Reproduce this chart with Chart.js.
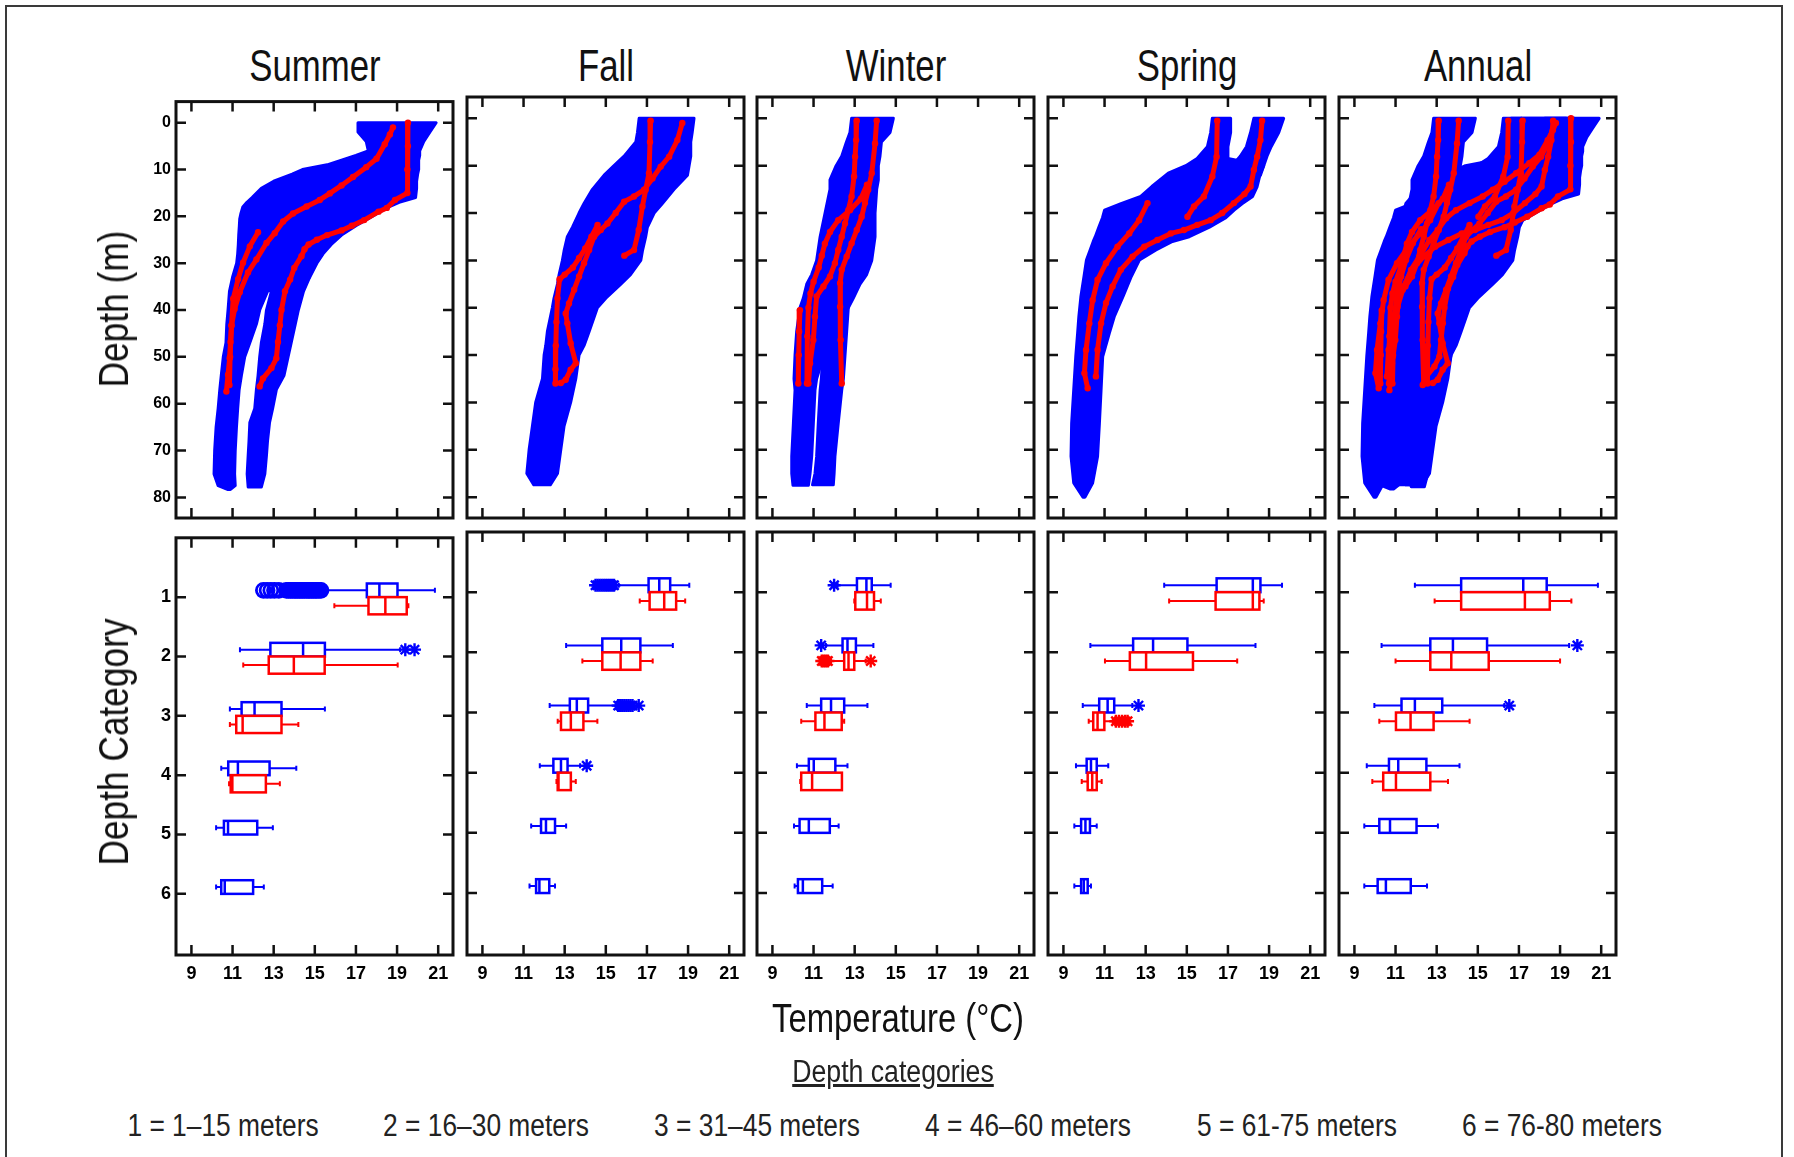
<!DOCTYPE html>
<html>
<head>
<meta charset="utf-8">
<script src="https://cdn.jsdelivr.net/npm/chart.js@4.4.1/dist/chart.umd.min.js"></script>
<style>
  body { margin: 0; background: #fff; width: 1794px; height: 1157px; overflow: hidden; position: relative;
         font-family: "Liberation Sans Narrow", "Arial Narrow", "Liberation Sans", Arial, sans-serif; color: #111; }
  .frame { position: absolute; left: 5px; top: 5px; width: 1774px; height: 1200px; border: 2px solid #3a3a3a; }
  canvas { position: absolute; }
  .txt { position: absolute; white-space: nowrap; }
</style>
</head>
<body>
<div class="frame"></div>
<script>
const FONT = '"Liberation Sans", Arial, sans-serif';
const BLUE = '#0000ff';
const RED = '#ff0000';

const seasons = ['Summer', 'Fall', 'Winter', 'Spring', 'Annual'];
const tempTicks = [9, 11, 13, 15, 17, 19, 21];
const depthTicks = [0, 10, 20, 30, 40, 50, 60, 70, 80];
const categoryTicks = [1, 2, 3, 4, 5, 6];
const depthCategories = ['1 = 1–15 meters', '2 = 16–30 meters', '3 = 31–45 meters',
                         '4 = 46–60 meters', '5 = 61-75 meters', '6 = 76-80 meters'];

// blue point clouds, rows of [depth m, min temp, max temp]
const summerCloudA = [[0,17.1,20.9],[2,17.1,20.6],[4,17.5,20.3],[6,17.6,20.1],[7,17.0,20.1],[8,16.3,20.05],
  [9,15.6,20.05],[10,14.4,20.05],[11,13.9,20.0],[12.5,13.0,19.95],[14,12.4,19.95],[16,11.95,19.9],[17,11.7,19.1],
  [18,11.5,18.6],[19.5,11.4,18.0],[20.5,11.35,17.6],[22,11.33,17.0],[24,11.3,16.3],[26,11.28,15.8],[28,11.25,15.4],
  [30,11.2,15.1],[33,11.0,14.75],[36,10.85,12.7],[40,10.78,12.32],[43,10.72,12.16],[47,10.68,11.84],[50,10.55,11.59],
  [54,10.45,11.43],[57,10.38,11.32],[61,10.3,11.25],[65,10.2,11.19],[70,10.13,11.13],[75,10.1,11.1],[77.5,10.3,11.13],[78.3,10.75,10.9]];
const summerCloudB = [[33,13.6,14.75],[36,12.89,14.45],[40,12.65,14.2],[43,12.57,14.05],[47,12.4,13.85],[50,12.32,13.7],
  [54,12.24,13.5],[57,12.16,13.13],[61,12.08,12.95],[64,11.84,12.8],[68,11.8,12.7],[71,11.76,12.65],[75,11.71,12.57],[77.8,11.76,12.4]];
const fallCloud = [[0,16.62,19.29],[3,16.54,19.2],[5,16.46,19.13],[8,15.89,19.13],[10,15.4,19.05],[12,14.92,18.97],
  [15,14.35,18.32],[18,13.94,17.75],[20,13.7,17.35],[23,13.38,17.02],[25,13.13,16.94],[28,12.97,16.78],[30,12.89,16.7],
  [33,12.73,16.2],[35,12.65,15.73],[38,12.48,15.0],[40,12.4,14.59],[45,12.16,14.19],[48,12.08,13.94],[50,12.0,13.7],
  [55,11.92,13.54],[60,11.59,13.29],[65,11.43,12.97],[70,11.27,12.81],[75,11.16,12.65],[77.4,11.5,12.3]];
const winterCloudA = [[0,12.85,14.88],[3,12.77,14.72],[5,12.6,14.3],[8,12.37,14.23],[10,12.1,14.15],[13,11.8,14.15],
  [15,11.8,14.07],[20,11.56,13.99],[25,11.32,13.99],[30,11.15,13.83],[33,10.91,13.58],[35,10.67,13.26],[38,10.5,12.93],
  [40,10.34,12.69],[45,10.18,11.9],[50,10.1,11.5],[55,10.05,11.15],[57.4,10.1,11.07],[64.4,10.02,10.99],[71.4,9.94,10.91],
  [75,9.94,10.83],[77.5,10.0,10.75]];
const winterCloudB = [[40,11.6,12.69],[45,11.5,12.61],[50,11.45,12.53],[55,11.38,12.45],[57.4,11.32,12.37],[64.4,11.23,12.2],
  [71.4,11.15,12.04],[75,11.07,12.0],[77.4,10.95,11.96]];
const springCloudA = [[0,16.24,17.13],[3,16.16,17.13],[6,16.0,17.0],[8.5,15.5,17.0],[10,14.95,18.74],[11.6,14.1,18.58],
  [14.4,13.3,18.42],[16.5,12.76,18.2],[18,11.8,17.7],[19.4,11.0,17.3],[21,10.9,16.9],[23,10.72,16.1],[25,10.55,15.12],
  [26,10.45,14.3],[27.8,10.3,13.5],[29.9,10.12,12.7],[33.4,10.0,12.3],[37.6,9.85,11.9],[41.9,9.75,11.47],[45.4,9.69,11.23],
  [50.3,9.6,10.91],[57.4,9.5,10.83],[64.4,9.4,10.75],[71.4,9.37,10.66],[77,9.5,10.42],[80,9.95,10.05]];
const springCloudB = [[0,18.26,19.71],[3,18.1,19.47],[6,17.9,19.1],[8,17.6,18.9],[10,17.2,18.74],[12,17.0,18.58]];

// red profiles, points of [temp, depth]
const summerRed1 = [[19.53,0],[19.53,5],[19.5,10],[19.5,15],[18.9,16.5],[18.5,18.2],[18.1,19],[17.4,20.8],[16.8,22],
  [16.3,23],[15.6,24],[15.1,25],[14.7,26],[14.5,27],[14.35,28.5],[14.0,31],[13.8,33.5],[13.55,36],[13.38,40],[13.3,43.3],
  [13.21,46.8],[13.13,50.3],[12.89,52.4],[12.48,54.6],[12.32,56.3]];
const summerRed2 = [[18.8,1],[18.65,2.5],[18.4,4.6],[18.0,7.7],[17.5,9.5],[16.86,11.6],[16.3,13.4],[15.73,15.1],
  [15.24,16.5],[14.6,17.9],[13.94,19.4],[13.46,21.1],[13.05,23.6],[12.65,25.7],[12.16,29.2],[11.75,32],[11.35,36.2],
  [11.1,39.8],[10.95,43.3],[10.9,46.8],[10.86,50.3],[10.78,53.8],[10.7,57.4]];
const summerRed3 = [[12.24,23.4],[11.84,26.4],[11.51,29.9],[11.27,33.4],[11.03,37.6],[10.95,43.3],[10.88,50],[10.85,56]];
const fallRed1 = [[17.18,0.5],[17.15,5],[17.1,11.6],[16.94,15.1],[16.78,18.6],[16.6,23.6],[16.37,27.8],[15.9,29]];
const fallRed2 = [[18.72,1],[18.48,4.6],[18.08,8.1],[17.67,10.2],[17.27,12.7],[16.86,15.1],[16.37,16.5],[15.89,17.6],
  [15.48,20],[15.08,22.2],[14.75,23.6],[14.43,25],[14.19,27.8],[13.94,30.6],[13.7,33.4],[13.46,36.2],[13.21,39.1],
  [13.05,41.2],[13.13,43.3],[13.29,47.5],[13.54,51.7],[13.29,53.1],[13.05,55.2],[12.81,55.9]];
const fallRed3 = [[14.6,22.5],[14.3,25],[14.0,27.5],[13.7,29.5],[13.4,31.5],[13.0,33],[12.75,34],[12.65,38],[12.6,43],
  [12.57,48],[12.55,53],[12.55,56]];
const winterRed1 = [[13.1,0.5],[13.07,4.6],[13.02,8.1],[12.97,12.3],[12.85,16.5],[12.69,19.4],[12.53,22.2],[12.37,25],
  [12.2,27.8],[12.04,30.6],[11.8,33.4],[11.48,35.5],[11.15,37.6],[11.07,41.9],[10.99,46.8],[10.83,51.7],[10.75,56]];
const winterRed2 = [[14.07,0.5],[13.99,5.3],[13.83,11.6],[13.66,15.1],[13.5,17.9],[13.34,20.8],[13.1,23.6],[12.85,26.4],
  [12.61,29.2],[12.37,32],[12.29,34.8],[12.29,39.8],[12.32,46.8],[12.37,56]];
const winterRed3 = [[13.6,14],[13.3,17],[12.77,19.4],[12.2,21.5],[11.8,24],[11.55,26.5],[11.4,29],[11.25,31.5],[11.0,34.5],
  [10.85,37],[10.75,40],[10.7,46],[10.68,56]];
const winterRed4 = [[10.34,40.5],[10.3,45],[10.28,50],[10.26,56]];
const springRed1 = [[16.48,0.5],[16.45,8.1],[16.24,12.3],[15.83,16.5],[15.35,18.6],[15.03,20.8]];
const springRed2 = [[18.66,0.5],[18.58,4.6],[18.42,8.1],[18.26,10.9],[18.1,14.4],[17.8,16],[17.29,17.9],[16.72,20],
  [16.16,21.5],[15.51,22.5],[14.86,23.6],[14.22,24.3],[13.57,25.7],[12.93,27.1],[12.36,29.2],[11.79,32],[11.39,35.5],
  [11.07,39],[10.83,43.3],[10.66,48.9],[10.58,54.5]];
const springRed3 = [[13.09,17.9],[12.68,21.5],[12.2,24.3],[11.63,27.1],[11.07,30.6],[10.66,34.1],[10.42,38.4],[10.26,43.3],
  [10.1,48.9],[10.02,53.8],[10.18,57]];

// box plots per depth category: [min, q1, median, q3, max]
const summerBlueBox = [[15.43,17.53,18.14,19.02,20.84],[11.36,12.84,14.43,15.49,19.15],[10.87,11.44,12.07,13.38,15.49],
  [10.45,10.79,11.26,12.8,14.1],[10.2,10.58,10.78,12.2,12.96],[10.2,10.45,10.62,12.0,12.52]];
const summerRedBox = [[15.95,17.61,18.43,19.47,19.55],[11.52,12.76,13.98,15.48,19.03],[10.87,11.18,11.49,13.38,14.2],
  [10.83,10.91,10.99,12.62,13.3]];
const fallBlueBox = [[15.63,17.08,17.6,18.13,19.06],[13.07,14.83,15.75,16.68,18.26],[12.27,13.25,13.59,14.14,15.55],
  [11.79,12.45,12.82,13.14,13.75],[11.37,11.85,12.09,12.53,13.07],[11.29,11.61,11.77,12.25,12.53]];
const fallRedBox = [[16.65,17.13,17.84,18.42,18.86],[13.86,14.83,15.72,16.68,17.28],[12.66,12.82,13.3,13.91,14.59],
  [12.6,12.66,12.7,13.3,13.54]];
const winterBlueBox = [[12.17,13.11,13.57,13.83,14.75],[11.6,12.41,12.65,13.06,13.91],[10.67,11.37,11.85,12.49,13.62],
  [10.19,10.77,11.01,12.06,12.65],[10.05,10.32,10.77,11.79,12.22],[10.08,10.24,10.48,11.42,11.93]];
const winterRedBox = [[12.98,13.03,13.6,13.94,14.27],[11.85,12.49,12.7,12.98,13.54],[10.4,11.09,11.53,12.37,12.49],
  [10.35,10.4,10.93,12.38,12.38]];
const springBlueBox = [[13.9,16.45,18.21,18.58,19.63],[10.31,12.39,13.36,15.03,18.34],[9.94,10.74,11.15,11.47,12.35],
  [9.61,10.13,10.34,10.62,11.18],[9.53,9.86,10.07,10.29,10.62],[9.53,9.86,9.99,10.18,10.34]];
const springRedBox = [[14.14,16.4,18.21,18.53,18.74],[11.02,12.23,13.02,15.3,17.45],[10.23,10.45,10.66,10.99,11.4],
  [9.89,10.18,10.4,10.62,10.86]];
const annualBlueBox = [[11.94,14.19,17.21,18.35,20.84],[10.32,12.69,13.79,15.45,19.44],[9.97,11.29,11.94,13.27,16.29],
  [9.6,10.68,11.13,12.5,14.11],[9.48,10.21,10.73,12.02,13.06],[9.48,10.13,10.53,11.74,12.53]];
const annualRedBox = [[12.9,14.19,17.29,18.5,19.55],[11.0,12.69,13.71,15.53,19.0],[10.21,11.02,11.73,12.85,14.6],
  [9.87,10.4,11.02,12.69,13.55]];

// outliers, [category, temp]
const summerBlueCircles = [[1,12.5],[1,12.68],[1,12.86],[1,13.04],[1,13.25],[1,13.62],[1,13.72],
  [1,13.82],[1,13.9],[1,14.0],[1,14.08],[1,14.16],[1,14.25],[1,14.33],[1,14.42],[1,14.5],[1,14.6],[1,14.68],[1,14.76],
  [1,14.85],[1,14.93],[1,15.02],[1,15.1],[1,15.2],[1,15.3]];
const summerBlueStars = [[2,19.4],[2,19.85]];
const fallBlueStars = [[1,14.5],[1,14.6],[1,14.7],[1,14.8],[1,14.9],[1,15.0],[1,15.1],[1,15.2],[1,15.3],[1,15.4],
  [3,15.6],[3,15.7],[3,15.8],[3,15.9],[3,16.0],[3,16.1],[3,16.2],[3,16.3],[3,16.6],[4,14.07]];
const winterBlueStars = [[1,12.0],[2,11.37]];
const winterRedStars = [[2,11.4],[2,11.5],[2,11.6],[2,11.7],[2,13.78]];
const springBlueStars = [[3,12.65]];
const springRedStars = [[3,11.55],[3,11.7],[3,11.85],[3,12.0],[3,12.12]];
const annualBlueStars = [[2,19.84],[3,16.53]];

const cloudsBySeason = [[summerCloudA, summerCloudB], [fallCloud], [winterCloudA, winterCloudB], [springCloudA, springCloudB]];
const redBySeason = [[summerRed1, summerRed2, summerRed3], [fallRed1, fallRed2, fallRed3],
  [winterRed1, winterRed2, winterRed3, winterRed4], [springRed1, springRed2, springRed3]];
// annual panel pools every season
cloudsBySeason.push(cloudsBySeason.flat());
redBySeason.push(redBySeason.flat());
const blueBoxes = [summerBlueBox, fallBlueBox, winterBlueBox, springBlueBox, annualBlueBox];
const redBoxes = [summerRedBox, fallRedBox, winterRedBox, springRedBox, annualRedBox];
const blueStars = [summerBlueStars, fallBlueStars, winterBlueStars, springBlueStars, annualBlueStars];
const redStars = [[], [], winterRedStars, springRedStars, []];
const blueCircles = [summerBlueCircles, [], [], [], []];

// layout
const panelLeft = [176, 467, 757, 1048, 1339];
const panelWidth = 277;
const topRow = { top: 97, height: 421 };
const bottomRow = { top: 532, height: 423 };
const M = { l: 50, t: 10, r: 10, b: 40 };
const BLUE_BAND = [-0.23, 0];
const RED_BAND = [0, 0.29];

// the original uses a narrow face, so squeeze Liberation Sans horizontally
function addText(text, x, y, size, squeeze, rotate, extra) {
  const d = document.createElement('div');
  d.className = 'txt';
  d.textContent = text;
  d.style.left = x + 'px';
  d.style.top = y + 'px';
  d.style.fontSize = size + 'px';
  d.style.transform = 'translate(-50%, -50%)' + (rotate ? ' rotate(-90deg)' : '') + ' scaleX(' + squeeze + ')';
  Object.assign(d.style, extra || {});
  document.body.appendChild(d);
}

function makeCanvas(left, row) {
  const c = document.createElement('canvas');
  c.width = panelWidth + M.l + M.r;
  c.height = row.height + M.t + M.b;
  c.style.left = (left - M.l) + 'px';
  c.style.top = (row.top - M.t) + 'px';
  document.body.appendChild(c);
  return c;
}

const tickFont = size => ({ family: FONT, size: size, weight: 'bold' });

function xScale(showLabels) {
  return {
    type: 'linear', min: 8.25, max: 21.72,
    afterFit: s => { s.height = M.b; },
    afterBuildTicks: s => { s.ticks = tempTicks.map(v => ({ value: v })); },
    grid: { display: false, drawTicks: false }, border: { display: false },
    ticks: { display: showLabels, autoSkip: false, maxRotation: 0, padding: 8, color: '#000', font: tickFont(18) }
  };
}

function yScale(min, max, values, showLabels, size) {
  return {
    type: 'linear', min: min, max: max, reverse: true,
    afterFit: s => { s.width = M.l; },
    afterBuildTicks: s => { s.ticks = values.map(v => ({ value: v })); },
    grid: { display: false, drawTicks: false }, border: { display: false },
    ticks: { display: showLabels, autoSkip: false, padding: 5, color: '#000', font: tickFont(size) }
  };
}

const framePlugin = {
  id: 'frame',
  afterDraw(chart) {
    const { ctx, chartArea: a, scales: { x, y } } = chart;
    ctx.save();
    ctx.strokeStyle = '#111';
    ctx.lineWidth = 2.5;
    ctx.beginPath();
    x.ticks.forEach(t => {
      const px = x.getPixelForValue(t.value);
      ctx.moveTo(px, a.top); ctx.lineTo(px, a.top + 10);
      ctx.moveTo(px, a.bottom); ctx.lineTo(px, a.bottom - 10);
    });
    y.ticks.forEach(t => {
      const py = y.getPixelForValue(t.value);
      ctx.moveTo(a.left, py); ctx.lineTo(a.left + 10, py);
      ctx.moveTo(a.right, py); ctx.lineTo(a.right - 10, py);
    });
    ctx.stroke();
    ctx.lineWidth = 3;
    ctx.strokeRect(a.left, a.top, a.right - a.left, a.bottom - a.top);
    ctx.restore();
  }
};

function cloudPlugin(clouds) {
  return {
    id: 'clouds',
    beforeDatasetsDraw(chart) {
      const { ctx, chartArea: a, scales: { x, y } } = chart;
      ctx.save();
      ctx.beginPath();
      ctx.rect(a.left, a.top, a.right - a.left, a.bottom - a.top);
      ctx.clip();
      ctx.fillStyle = BLUE;
      ctx.strokeStyle = BLUE;
      ctx.lineWidth = 3;
      ctx.lineJoin = 'round';
      clouds.forEach(c => {
        ctx.beginPath();
        c.forEach(([d, lo], i) => {
          const px = x.getPixelForValue(lo), py = y.getPixelForValue(d);
          if (i) ctx.lineTo(px, py); else ctx.moveTo(px, py);
        });
        for (let i = c.length - 1; i >= 0; i--) {
          ctx.lineTo(x.getPixelForValue(c[i][2]), y.getPixelForValue(c[i][0]));
        }
        ctx.closePath();
        ctx.fill();
        ctx.stroke();
      });
      ctx.restore();
    }
  };
}

function boxPlugin(blue, red) {
  return {
    id: 'boxes',
    afterDatasetsDraw(chart) {
      const { ctx, scales: { x, y } } = chart;
      const draw = (stats, color, band) => stats.forEach((s, i) => {
        const cat = categoryTicks[i];
        const y0 = y.getPixelForValue(cat + band[0]), y1 = y.getPixelForValue(cat + band[1]);
        const ym = (y0 + y1) / 2;
        const [mn, q1, md, q3, mx] = s.map(v => x.getPixelForValue(v));
        ctx.strokeStyle = color;
        ctx.lineWidth = 2;
        ctx.beginPath();
        ctx.moveTo(mn, ym); ctx.lineTo(q1, ym);
        ctx.moveTo(q3, ym); ctx.lineTo(mx, ym);
        ctx.moveTo(mn, ym - 2.5); ctx.lineTo(mn, ym + 2.5);
        ctx.moveTo(mx, ym - 2.5); ctx.lineTo(mx, ym + 2.5);
        ctx.stroke();
        ctx.lineWidth = 2.5;
        ctx.fillStyle = '#fff';
        ctx.fillRect(q1, y0, q3 - q1, y1 - y0);
        ctx.strokeRect(q1, y0, q3 - q1, y1 - y0);
        ctx.beginPath();
        ctx.moveTo(md, y0); ctx.lineTo(md, y1);
        ctx.stroke();
      });
      ctx.save();
      draw(blue, BLUE, BLUE_BAND);
      draw(red, RED, RED_BAND);
      ctx.restore();
    }
  };
}

function outlierSet(rows, color, band, style) {
  const mid = (band[0] + band[1]) / 2;
  return {
    data: rows.map(([c, v]) => ({ x: v, y: c + mid })),
    pointStyle: style, pointRadius: style === 'circle' ? 7 : 6.5,
    pointBorderWidth: style === 'circle' ? 2.8 : 2.4,
    pointBorderColor: color, pointBackgroundColor: 'rgba(0,0,0,0)'
  };
}

const common = {
  responsive: false, animation: false, events: [],
  layout: { padding: { top: M.t, right: M.r, left: 0, bottom: 0 } },
  plugins: { legend: { display: false }, tooltip: { enabled: false } }
};

seasons.forEach((name, i) => {
  const left = panelLeft[i];
  addText(name, left + panelWidth / 2, 66, 44, 0.79, false);

  // depth profiles
  new Chart(makeCanvas(left, topRow), {
    type: 'scatter',
    data: {
      datasets: redBySeason[i].map(p => ({
        data: p.map(([t, d]) => ({ x: t, y: d })),
        showLine: true, borderColor: RED, borderWidth: 5, tension: 0,
        borderCapStyle: 'round', borderJoinStyle: 'round',
        pointRadius: 3.2, pointBorderWidth: 0, pointBackgroundColor: RED
      }))
    },
    plugins: [cloudPlugin(cloudsBySeason[i]), framePlugin],
    options: Object.assign({}, common, {
      scales: { x: xScale(false), y: yScale(-4.5, 84.4, depthTicks, i === 0, 16) }
    })
  });

  // box plots by depth category
  new Chart(makeCanvas(left, bottomRow), {
    type: 'scatter',
    data: {
      datasets: [
        outlierSet(blueCircles[i], BLUE, BLUE_BAND, 'circle'),
        outlierSet(blueStars[i], BLUE, BLUE_BAND, 'star'),
        outlierSet(redStars[i], RED, RED_BAND, 'star')
      ]
    },
    plugins: [boxPlugin(blueBoxes[i], redBoxes[i]), framePlugin],
    options: Object.assign({}, common, {
      scales: { x: xScale(true), y: yScale(0, 7.03, categoryTicks, i === 0, 18) }
    })
  });
});

addText('Depth (m)', 114, 309, 42, 0.84, true);
addText('Depth Category', 114, 742, 42, 0.84, true);
addText('Temperature (°C)', 898, 1018, 40, 0.82, false);
addText('Depth categories', 893, 1072, 31, 0.86, false, { textDecoration: 'underline', color: '#222' });
const legendX = [223, 486, 757, 1028, 1297, 1562];
depthCategories.forEach((t, i) => addText(t, legendX[i], 1126, 31, 0.85, false, { color: '#222' }));
</script>
</body>
</html>
